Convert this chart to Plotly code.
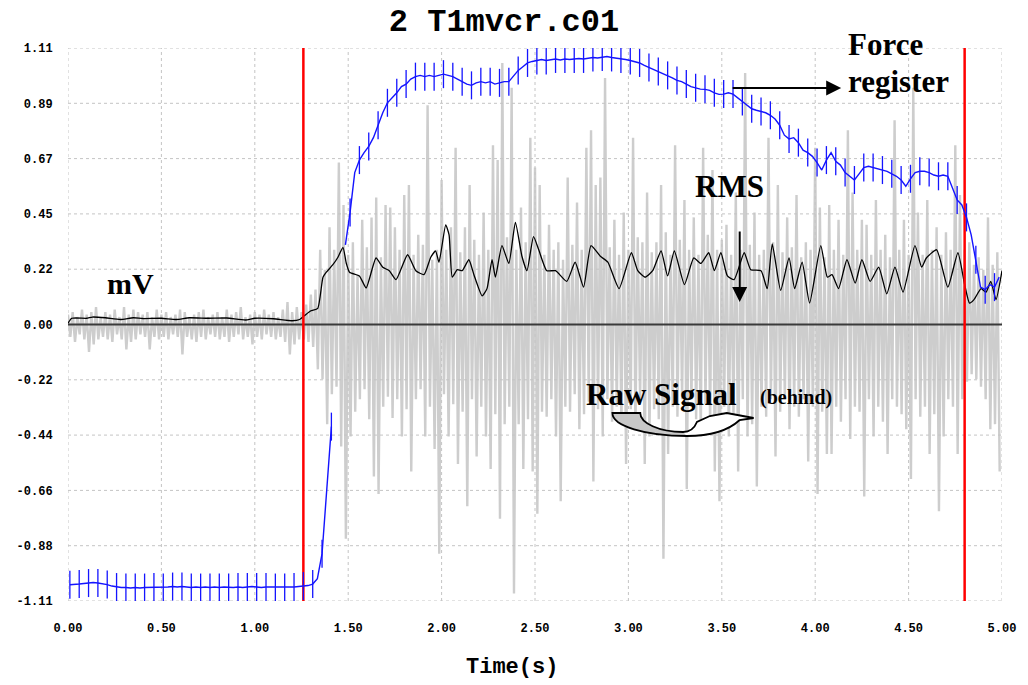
import numpy as np
import plotly.graph_objects as go

# ---------------- data ----------------
# raw EMG signal: per 0.025 s bin, positive peak and negative peak (mV)
raw_dt = 0.025
raw_pos = [
    0.04, 0.05, 0.03, 0.06, 0.04, 0.05, 0.07, 0.03, 0.05, 0.04,
    0.06, 0.03, 0.07, 0.04, 0.06, 0.05, 0.04, 0.05, 0.03, 0.06,
    0.04, 0.05, 0.03, 0.04, 0.06, 0.05, 0.03, 0.04, 0.05, 0.06,
    0.03, 0.04, 0.05, 0.03, 0.06, 0.04, 0.05, 0.07, 0.03, 0.04,
    0.05, 0.04, 0.06, 0.04, 0.05, 0.03, 0.06, 0.09, 0.05, 0.07,
    0.05, 0.08, 0.12, 0.14, 0.30, 0.22, 0.39, 0.30, 0.65, 0.48,
    0.28, 0.33, 0.20, 0.42, 0.31, 0.43, 0.51, 0.27, 0.48, 0.47,
    0.39, 0.30, 0.52, 0.56, 0.28, 0.36, 0.32, 0.88, 0.26, 0.30,
    0.58, 0.30, 0.39, 0.71, 0.29, 0.39, 0.56, 0.34, 0.28, 0.45,
    0.30, 0.72, 0.66, 1.05, 0.35, 0.95, 0.30, 0.47, 0.33, 0.75,
    0.63, 0.56, 0.28, 0.40, 0.30, 0.33, 0.26, 0.59, 0.32, 0.49,
    0.30, 0.71, 0.78, 0.56, 0.59, 0.99, 0.31, 0.42, 0.28, 0.45,
    0.30, 0.75, 0.35, 0.33, 0.53, 0.29, 0.33, 0.56, 0.37, 0.28,
    0.72, 0.34, 0.50, 0.30, 0.43, 0.28, 0.71, 0.36, 0.62, 0.30,
    0.34, 0.40, 0.28, 0.53, 0.30, 1.01, 0.32, 0.45, 0.28, 0.30,
    0.75, 0.33, 0.56, 0.29, 0.43, 0.31, 0.52, 0.27, 0.33, 0.30,
    0.71, 0.47, 0.27, 0.48, 0.30, 0.42, 0.28, 0.78, 0.53, 0.30,
    0.42, 0.40, 0.28, 0.50, 0.30, 0.36, 0.27, 0.82, 0.30, 0.42,
    0.28, 0.95, 0.45, 0.28, 0.50, 0.30, 0.39, 0.28, 0.37, 0.30,
    0.72, 0.52, 0.30, 0.33, 0.24, 0.27, 0.22, 0.43, 0.24, 0.29,
]
raw_neg = [
    -0.05, -0.07, -0.04, -0.06, -0.11, -0.08, -0.06, -0.05, -0.06, -0.07,
    -0.04, -0.06, -0.10, -0.07, -0.06, -0.04, -0.05, -0.10, -0.05, -0.06,
    -0.05, -0.06, -0.04, -0.05, -0.12, -0.05, -0.06, -0.07, -0.05, -0.06,
    -0.04, -0.05, -0.06, -0.05, -0.07, -0.05, -0.04, -0.06, -0.05, -0.08,
    -0.05, -0.06, -0.04, -0.05, -0.06, -0.05, -0.07, -0.12, -0.08, -0.06,
    -0.06, -0.07, -0.09, -0.18, -0.22, -0.40, -0.28, -0.25, -0.49, -0.86,
    -0.45, -0.35, -0.30, -0.26, -0.38, -0.61, -0.68, -0.33, -0.29, -0.375,
    -0.30, -0.45, -0.34, -0.59, -0.30, -0.26, -0.45, -0.33, -0.50, -0.92,
    -0.28, -0.45, -0.32, -0.56, -0.35, -0.73, -0.30, -0.53, -0.33, -0.45,
    -0.58, -0.36, -0.78, -0.40, -0.33, -1.08, -0.40, -0.58, -0.38, -0.59,
    -0.76, -0.35, -0.37, -0.30, -0.45, -0.71, -0.33, -0.35, -0.28, -0.42,
    -0.36, -0.31, -0.63, -0.34, -0.45, -0.30, -0.39, -0.33, -0.40, -0.56,
    -0.34, -0.42, -0.30, -0.56, -0.45, -0.34, -0.38, -0.94, -0.52, -0.33,
    -0.37, -0.30, -0.66, -0.30, -0.38, -0.45, -0.32, -0.40, -0.59, -0.71,
    -0.33, -0.45, -0.36, -0.59, -0.30, -0.45, -0.40, -0.65, -0.33, -0.37,
    -0.30, -0.53, -0.35, -0.30, -0.42, -0.33, -0.37, -0.30, -0.55, -0.33,
    -0.68, -0.35, -0.52, -0.52, -0.33, -0.39, -0.30, -0.46, -0.33, -0.35,
    -0.69, -0.30, -0.45, -0.33, -0.39, -0.52, -0.30, -0.33, -0.36, -0.42,
    -0.62, -0.30, -0.37, -0.33, -0.52, -0.36, -0.75, -0.45, -0.30, -0.33,
    -0.52, -0.30, -0.23, -0.20, -0.22, -0.25, -0.30, -0.42, -0.40, -0.59,
]

# RMS envelope (time s, mV)
rms_t = [0.00, 0.02, 0.10, 0.13, 0.20, 0.28, 0.35, 0.40, 0.50, 0.58, 0.65, 0.75,
         0.85, 0.95, 1.00, 1.10, 1.20, 1.24, 1.267, 1.30, 1.337, 1.365, 1.383,
         1.418, 1.445, 1.472, 1.49, 1.507, 1.56, 1.596, 1.649, 1.685, 1.72, 1.756,
         1.818, 1.862, 1.906, 1.942, 1.968, 1.986, 2.022, 2.04, 2.057, 2.084, 2.11,
         2.146, 2.173, 2.217, 2.243, 2.27, 2.288, 2.323, 2.36, 2.395, 2.43, 2.457,
         2.492, 2.52, 2.563, 2.61, 2.67, 2.715, 2.76, 2.80, 2.85, 2.89, 2.95, 3.016,
         3.05, 3.09, 3.13, 3.175, 3.21, 3.246, 3.30, 3.35, 3.388, 3.43, 3.46, 3.495,
         3.53, 3.566, 3.62, 3.655, 3.71, 3.743, 3.77, 3.815, 3.86, 3.89, 3.93, 3.97,
         4.03, 4.065, 4.09, 4.125, 4.17, 4.214, 4.25, 4.294, 4.34, 4.383, 4.427,
         4.47, 4.534, 4.57, 4.595, 4.65, 4.71, 4.764, 4.80, 4.826, 4.85, 4.888,
         4.915, 4.94, 4.968, 5.0]
rms_v = [0.005, 0.025, 0.025, 0.030, 0.027, 0.020, 0.027, 0.024, 0.025, 0.020, 0.027, 0.025,
         0.026, 0.018, 0.025, 0.023, 0.015, 0.020, 0.036, 0.055, 0.065, 0.19, 0.21,
         0.24, 0.27, 0.31, 0.245, 0.21, 0.195, 0.147, 0.267, 0.23, 0.216, 0.18,
         0.28, 0.216, 0.20, 0.27, 0.295, 0.25, 0.40, 0.36, 0.19, 0.22, 0.216,
         0.26, 0.20, 0.115, 0.144, 0.26, 0.19, 0.317, 0.245, 0.41, 0.274, 0.216,
         0.353, 0.30, 0.216, 0.216, 0.173, 0.25, 0.15, 0.317, 0.274, 0.25, 0.144, 0.288,
         0.216, 0.19, 0.216, 0.295, 0.195, 0.295, 0.16, 0.267, 0.245, 0.288, 0.216, 0.288,
         0.195, 0.18, 0.288, 0.22, 0.216, 0.144, 0.324, 0.137, 0.267, 0.144, 0.25, 0.086,
         0.317, 0.19, 0.20, 0.144, 0.26, 0.166, 0.26, 0.173, 0.23, 0.123, 0.23,
         0.13, 0.317, 0.23, 0.267, 0.30, 0.15, 0.288, 0.16, 0.086, 0.10, 0.144,
         0.13, 0.173, 0.10, 0.216]

# force register, sampled every 0.025 s starting at 0.01 s (None = gap in trace)
force_t0 = 0.01
force_dt = 0.025
force_v = [
    -1.045, -1.045, -1.042, -1.040, -1.038, -1.036, -1.038, -1.040, -1.044, -1.050,
    -1.054, -1.056, -1.056, -1.058, -1.056, -1.058, -1.056, -1.056, -1.054, -1.056,
    -1.056, -1.054, -1.052, -1.054, -1.052, -1.054, -1.056, -1.054, -1.056, -1.054,
    -1.056, -1.054, -1.056, -1.054, -1.056, -1.056, -1.054, -1.056, -1.054, -1.052,
    -1.054, -1.056, -1.054, -1.054, -1.056, -1.054, -1.056, -1.054, -1.054, -1.052,
    -1.050, -1.048, -1.042, -1.020, -0.92, -0.68, -0.41, None, None, 0.32,
    0.45, 0.61, 0.66, 0.69, 0.715, 0.75, 0.80, 0.85, 0.89, 0.91,
    0.93, 0.955, 0.965, 0.985, 0.995, 1.00, 0.995, 1.00, 0.995, 1.00,
    1.005, 1.00, 0.995, 0.985, 0.975, 0.965, 0.96, 0.97, 0.975, 0.97,
    0.975, 0.965, 0.97, 0.975, 0.975, 1.00, 1.02, 1.035, 1.05, 1.056,
    1.06, 1.064, 1.06, 1.064, 1.066, 1.062, 1.066, 1.064, 1.066, 1.068,
    1.066, 1.07, 1.072, 1.07, 1.074, 1.076, 1.072, 1.07, 1.066, 1.064,
    1.06, 1.056, 1.05, 1.04, 1.032, 1.024, 1.016, 1.006, 1.00, 0.99,
    0.98, 0.975, 0.965, 0.955, 0.95, 0.945, 0.944, 0.94, 0.93, 0.924,
    0.925, 0.93, 0.925, 0.91, 0.895, 0.88, 0.866, 0.86, 0.855, 0.85,
    0.84, 0.825, 0.80, 0.76, 0.745, 0.75, 0.73, 0.70, 0.69, 0.675,
    0.65, 0.62, 0.66, 0.69, 0.655, 0.64, 0.61, 0.595, 0.58, 0.605,
    0.63, 0.635, 0.63, 0.625, 0.62, 0.615, 0.605, 0.595, 0.58, 0.555,
    0.585, 0.61, 0.615, 0.615, 0.61, 0.60, 0.595, 0.60, 0.595, 0.55,
    0.50, 0.48, 0.43, 0.36, 0.26, 0.15, 0.14, 0.16, 0.15, 0.19,
]

event_t = [1.26, 4.80]                      # red event markers (s)

x_tick_labels = ["0.00", "0.50", "1.00", "1.50", "2.00", "2.50",
                 "3.00", "3.50", "4.00", "4.50", "5.00"]
y_tick_labels = ["-1.11", "-0.88", "-0.66", "-0.44", "-0.22", "0.00",
                 "0.22", "0.45", "0.67", "0.89", "1.11"]

title_text = "2 T1mvcr.c01"
x_title = "Time(s)"

# ---------------- geometry ----------------
W, H = 1028, 685
L, R, T, B = 67.7, 1006.7, 48, 601
X0, X1 = 0.0, 5.0
Y0, Y1 = -1.11, 1.11


def px_x(px):
    return X0 + (px - L) / (R - L) * (X1 - X0)


def px_y(py):
    return Y1 - (py - T) / (B - T) * (Y1 - Y0)


def pp_x(px):
    return (px - L) / (R - L)


def pp_y(py):
    return (B - py) / (B - T)


xticks = np.linspace(X0, X1, len(x_tick_labels))
yticks = np.linspace(Y0, Y1, len(y_tick_labels))

# raw trace: zig-zag between positive and negative peaks
n = len(raw_pos)
tb = np.arange(n) * raw_dt
raw_x = np.empty(2 * n)
raw_y = np.empty(2 * n)
raw_x[0::2] = tb
raw_x[1::2] = tb + raw_dt / 2
raw_y[0::2] = raw_pos
raw_y[1::2] = raw_neg

force_t = force_t0 + np.arange(len(force_v)) * force_dt
force_arr = np.array([np.nan if v is None else v for v in force_v])

# grid line trace
gx, gy = [], []
for xv in xticks:
    gx += [xv, xv, None]
    gy += [Y0, Y1, None]
for yv in yticks:
    gx += [X0, X1, None]
    gy += [yv, yv, None]

BLUE = "#1414ff"
fig = go.Figure()
fig.add_trace(go.Scatter(x=raw_x, y=raw_y, mode="lines",
                         line=dict(color="#cdcdcd", width=2.4),
                         hoverinfo="skip", showlegend=False))
fig.add_trace(go.Scatter(x=gx, y=gy, mode="lines", cliponaxis=False,
                         line=dict(color="#c4c4c4", width=1, dash="3px,3px"),
                         hoverinfo="skip", showlegend=False))
fig.add_trace(go.Scatter(x=[X0, X1], y=[0, 0], mode="lines",
                         line=dict(color="#3a3a3a", width=2),
                         hoverinfo="skip", showlegend=False))
fig.add_trace(go.Scatter(x=rms_t, y=rms_v, mode="lines",
                         line=dict(color="black", width=1.3, shape="spline", smoothing=0.5),
                         showlegend=False))
for et in event_t:
    fig.add_trace(go.Scatter(x=[et, et], y=[Y0, Y1], mode="lines",
                             line=dict(color="#ff0000", width=2.5),
                             hoverinfo="skip", showlegend=False))
fig.add_trace(go.Scatter(x=force_t, y=force_arr, mode="lines",
                         line=dict(color=BLUE, width=1.4),
                         connectgaps=False, showlegend=False))
fig.add_trace(go.Scatter(x=force_t[::2], y=force_arr[::2], mode="markers",
                         marker=dict(symbol="line-ns", size=20,
                                     line=dict(color=BLUE, width=1.3)),
                         showlegend=False, hoverinfo="skip"))

serif = "Liberation Serif, Times New Roman, serif"
mono = "Liberation Mono, Courier New, monospace"
ann = []


def txt(text, px, py, size, xanchor="center"):
    ann.append(dict(x=pp_x(px), y=pp_y(py), xref="paper", yref="paper", text=text,
                    showarrow=False, xanchor=xanchor, yanchor="middle",
                    font=dict(family=serif, size=size, color="black")))


txt("<b>mV</b>", 131, 283, 30)
txt("<b>RMS</b>", 733, 186, 31)
txt("<b>Force</b>", 850, 44, 31, "left")
txt("<b>register</b>", 850, 82, 31, "left")
txt("<b>Raw Signal</b>", 664, 394, 31)
txt("<b>(behind)</b>", 800, 397, 20)

# arrows
ann.append(dict(x=px_x(743), y=px_y(302), xref="x", yref="y", text="",
                showarrow=True, ax=0, ay=-72, arrowhead=2, arrowsize=1.5,
                arrowwidth=2, arrowcolor="black"))
ann.append(dict(x=px_x(845), y=px_y(88), xref="x", yref="y", text="",
                showarrow=True, ax=-110, ay=0, arrowhead=2, arrowsize=1.5,
                arrowwidth=2, arrowcolor="black"))

# x-axis title
ann.append(dict(x=pp_x(514), y=pp_y(668), xref="paper", yref="paper", text=f"<b>{x_title}</b>",
                showarrow=False, xanchor="center", yanchor="middle",
                font=dict(family=mono, size=22, color="black")))


# curved arrow shapes (pixel -> data coordinates)
def P(px, py):
    return f"{px_x(px):.5f},{px_y(py):.5f}"


outline = (f"M {P(615,413)} L {P(643,413)} "
           f"C {P(643,423)} {P(662,432)} {P(686,432)} "
           f"C {P(694,432)} {P(698,427)} {P(700,422)} "
           f"L {P(713,416)} L {P(730,413)} L {P(757,418)} L {P(743,420)} "
           f"C {P(730,432)} {P(712,436)} {P(690,436)} "
           f"C {P(648,436)} {P(615,426)} {P(615,413)} Z")
grey_part = (f"M {P(615,413)} L {P(643,413)} "
             f"C {P(643,423)} {P(662,432)} {P(686,432)} "
             f"L {P(690,436)} C {P(648,436)} {P(615,426)} {P(615,413)} Z")
shapes = [
    dict(type="path", path=outline, xref="x", yref="y", layer="above",
         fillcolor="white", line=dict(width=0)),
    dict(type="path", path=grey_part, xref="x", yref="y", layer="above",
         fillcolor="#c8c8c8", line=dict(width=0)),
    dict(type="path", path=outline, xref="x", yref="y", layer="above",
         fillcolor="rgba(0,0,0,0)", line=dict(color="black", width=1.8)),
]

fig.update_layout(
    width=W, height=H,
    margin=dict(l=L, r=W - R, t=T, b=H - B),
    paper_bgcolor="white", plot_bgcolor="white",
    title=dict(text=f"<b>{title_text}</b>", xref="container", yref="container",
               x=504 / W, y=1 - 20 / H, xanchor="center", yanchor="middle",
               font=dict(family=mono, size=32, color="black")),
    xaxis=dict(range=[X0, X1], tickvals=xticks, ticktext=x_tick_labels,
               showgrid=False, zeroline=False, showline=False,
               ticks="outside", ticklen=16, tickcolor="rgba(0,0,0,0)",
               tickfont=dict(family=mono, size=12, color="black", weight="bold")),
    yaxis=dict(range=[Y0, Y1], tickvals=yticks, ticktext=y_tick_labels,
               showgrid=False, zeroline=False, showline=False,
               ticks="outside", ticklen=12, tickcolor="rgba(0,0,0,0)",
               tickfont=dict(family=mono, size=12, color="black", weight="bold")),
    annotations=ann,
    shapes=shapes,
)

fig.write_html("out.html")
